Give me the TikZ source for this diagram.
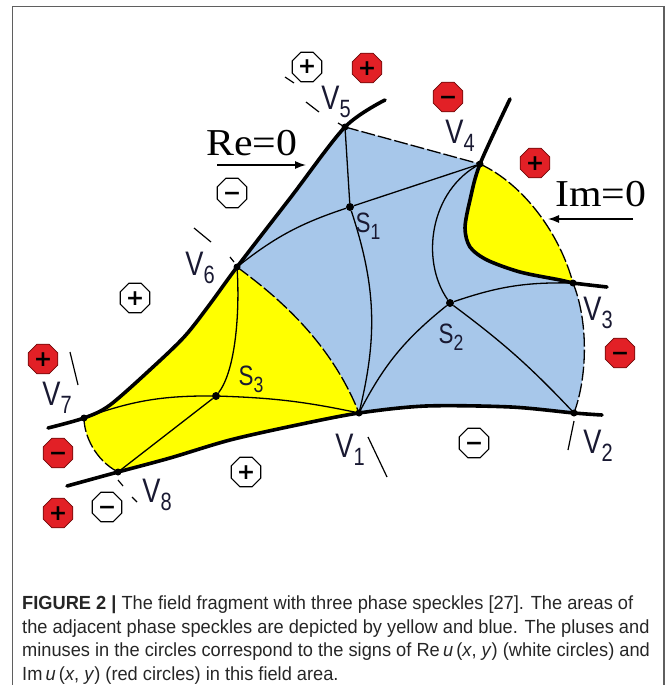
\documentclass[tikz,border=0pt]{standalone}
\usepackage{fontspec}
\setmainfont{Liberation Serif}
\newfontfamily\speckfont[FakeStretch=0.8]{Liberation Sans}
\newfontfamily\zerofont[FakeStretch=1.1]{Liberation Serif}
\newfontfamily\capfont[FakeStretch=0.96]{Liberation Sans}
\newfontfamily\signfont{DejaVu Sans}
\usetikzlibrary{shapes.geometric,arrows.meta}

\definecolor{speckleblue}{RGB}{167,199,234}
\definecolor{speckleyellow}{RGB}{255,255,0}
\definecolor{signred}{RGB}{226,32,38}
\definecolor{signedge}{RGB}{110,10,10}
\definecolor{framegray}{RGB}{95,95,95}
\definecolor{labelink}{RGB}{25,25,50}

% vertex and saddle labels
\newcommand\vname[1]{{\speckfont\fontsize{34}{34}\selectfont V\raisebox{-8pt}{\fontsize{25}{25}\selectfont #1}}}
\newcommand\sname[1]{{\speckfont\fontsize{28}{28}\selectfont S\raisebox{-7pt}{\fontsize{22}{22}\selectfont #1}}}

\begin{document}
\begin{tikzpicture}[x=1pt,y=-1pt,
  zeroline/.style={line width=3.6pt,line cap=round,line join=round},
  seam/.style={line width=1.3pt,dash pattern=on 14pt off 3pt},
  sepline/.style={line width=1.3pt},
  tickmark/.style={line width=1.2pt},
  pointer/.style={line width=1.3pt,-{Latex[length=11pt,width=8pt]}},
  spoint/.style={circle,fill=black,inner sep=0pt,minimum size=8pt},
  whitesign/.style={regular polygon,regular polygon sides=8,minimum size=32pt,inner sep=0pt,
    draw=black,line width=1.1pt,fill=white,text height=14pt,text depth=0pt,
    font=\signfont\bfseries\fontsize{22}{22}\selectfont},
  redsign/.style={whitesign,fill=signred,draw=signedge,line width=0.8pt},
  vlabel/.style={inner sep=0pt,text=labelink},
  zerolabel/.style={inner sep=0pt,font=\zerofont\fontsize{38}{38}\selectfont}]
\useasboundingbox (0,0) rectangle (667,685);
\draw[framegray,line width=1.6pt] (12.5,685) -- (12.5,6.5) -- (664,6.5) -- (664,685);

\coordinate (V1) at (359,413);
\coordinate (V2) at (574,413);
\coordinate (V3) at (573,283);
\coordinate (V4) at (480,164);
\coordinate (V5) at (345,127);
\coordinate (V6) at (237,267);
\coordinate (V7) at (84,418);
\coordinate (V8) at (118,472);

% speckle areas
\fill[speckleblue] plot[smooth] coordinates {(V5) (291,197) (V6)}
  .. controls (275,295) and (330,340) .. (V1)
  -- plot[smooth] coordinates {(V1) (426,406) (511,407) (V2)}
  .. controls (588,375) and (588,320) .. (V3)
  -- plot[smooth] coordinates {(V3) (560,280) (520,272) (487,260) (470,247) (465,228) (470,200) (V4)}
  -- cycle;
\fill[speckleyellow] plot[smooth] coordinates {(V4) (470,200) (465,228) (470,247) (487,260) (520,272) (560,280) (V3)}
  .. controls (560,235) and (525,185) .. (V4) -- cycle;
\fill[speckleyellow] (V6) .. controls (275,295) and (330,340) .. (V1)
  -- plot[smooth] coordinates {(V1) (297,425) (230,440) (170,458) (V8)}
  .. controls (95,460) and (84,435) .. (V7)
  -- plot[smooth] coordinates {(V7) (110,405) (153,367) (185,336) (210,304) (V6)} -- cycle;

% speckle borders
\draw[seam] (V5) -- (V4);
\draw[seam] (V4) .. controls (525,185) and (560,235) .. (V3);
\draw[seam] (V3) .. controls (588,320) and (588,375) .. (V2);
\draw[seam] (V6) .. controls (275,295) and (330,340) .. (V1);
\draw[seam] (V7) .. controls (84,435) and (95,460) .. (V8);
\draw[tickmark] (285,77) -- (294,83);
\draw[tickmark] (306,102) -- (319,112);
\draw[tickmark] (338,123) -- (343,126);
\draw[tickmark] (194,228) -- (211,242);
\draw[tickmark] (230,257) -- (234,262);
\draw[tickmark] (70,352) -- (78,385);
\draw[tickmark] (118,480) -- (123,486);
\draw[tickmark] (132,497) -- (137,502);
\draw[tickmark] (368,437) -- (387,477);
\draw[tickmark] (574,421) -- (568,450);

% saddles
\node[spoint] (S1) at (350,207) {};
\node[spoint] (S2) at (450,303) {};
\node[spoint] (S3) at (216,396) {};
\draw[sepline] (S1) -- (V5);
\draw[sepline] (S1) -- (V4);
\draw[sepline] (S1) to[bend right=10] (V6);
\draw[sepline] (S1) to[bend left=16] (V1);
\draw[sepline] (S2) .. controls (420,260) and (430,190) .. (V4);
\draw[sepline] (S2) to[bend left=10] (V3);
\draw[sepline] (S2) to[bend right=12] (V1);
\draw[sepline] (S2) to[bend left=5] (V2);
\draw[sepline] (S3) .. controls (236,370) and (240,310) .. (V6);
\draw[sepline] (S3) to[bend right=10] (V7);
\draw[sepline] (S3) to[bend left=5] (V1);
\draw[sepline] (S3) -- (V8);

% Re=0 and Im=0 lines
\draw[zeroline] plot[smooth] coordinates {(385,100) (V5) (291,197) (V6) (210,304) (185,336) (153,367) (110,405) (V7) (48,428)};
\draw[zeroline] plot[smooth] coordinates {(510,99) (V4) (470,200) (465,228) (470,247) (487,260) (520,272) (560,280) (V3) (607,287)};
\draw[zeroline] plot[smooth] coordinates {(67,486) (V8) (170,458) (230,440) (297,425) (V1) (426,406) (511,407) (V2) (602,415)};
\foreach \v in {V1,V2,V3,V4,V5,V6,V7,V8}
  \fill (\v) circle (3.5pt);

\node[vlabel] (labV1) at (350,450) {\vname{1}};
\node[vlabel] (labV2) at (598,446) {\vname{2}};
\node[vlabel] (labV3) at (598,313) {\vname{3}};
\node[vlabel] (labV4) at (460,136) {\vname{4}};
\node[vlabel] (labV5) at (336,102) {\vname{5}};
\node[vlabel] (labV6) at (200,268) {\vname{6}};
\node[vlabel] (labV7) at (57,398) {\vname{7}};
\node[vlabel] (labV8) at (157,495) {\vname{8}};
\node[vlabel] (labS1) at (368,226) {\sname{1}};
\node[vlabel] (labS2) at (451,337) {\sname{2}};
\node[vlabel] (labS3) at (251,379) {\sname{3}};

\node[zerolabel] (reLabel) at (252,143) {Re=0};
\node[zerolabel] (imLabel) at (601,194) {Im=0};
\coordinate (reTail) at (217,165);
\coordinate (reHead) at (306,165);
\coordinate (imTail) at (633,219);
\coordinate (imHead) at (548,219);
\draw[pointer] (reTail) -- (reHead);
\draw[pointer] (imTail) -- (imHead);

% signs of Re u (white) and Im u (red)
\node[whitesign] (reTop) at (307,67) {+};
\node[redsign] (imTop) at (367,68) {+};
\node[redsign] (imTopRight) at (448,97) {−};
\node[redsign] (imRight) at (535,163) {+};
\node[whitesign] (reLeft) at (232,193) {−};
\node[whitesign] (reFarLeft) at (135,298) {+};
\node[redsign] (imLowRight) at (620,353) {−};
\node[redsign] (imLeft) at (43,359) {+};
\node[redsign] (imLowLeft) at (58,453) {−};
\node[redsign] (imBottomLeft) at (58,513) {+};
\node[whitesign] (reBottomLeft) at (107,507) {−};
\node[whitesign] (reBottom) at (246,472) {+};
\node[whitesign] (reBottomRight) at (474,443) {−};

\node[anchor=north west,inner sep=0pt,align=left,text=black!85,
  font=\capfont\fontsize{19}{23.5}\selectfont] (caption) at (22,596)
  {\textbf{FIGURE 2 |} The field fragment with three phase speckles [27]. The areas of\\
   the adjacent phase speckles are depicted by yellow and blue. The pluses and\\
   minuses in the circles correspond to the signs of Re\,\textit{u}\,(\textit{x}, \textit{y}) (white circles) and\\
   Im\,\textit{u}\,(\textit{x}, \textit{y}) (red circles) in this field area.};
\end{tikzpicture}
\end{document}
